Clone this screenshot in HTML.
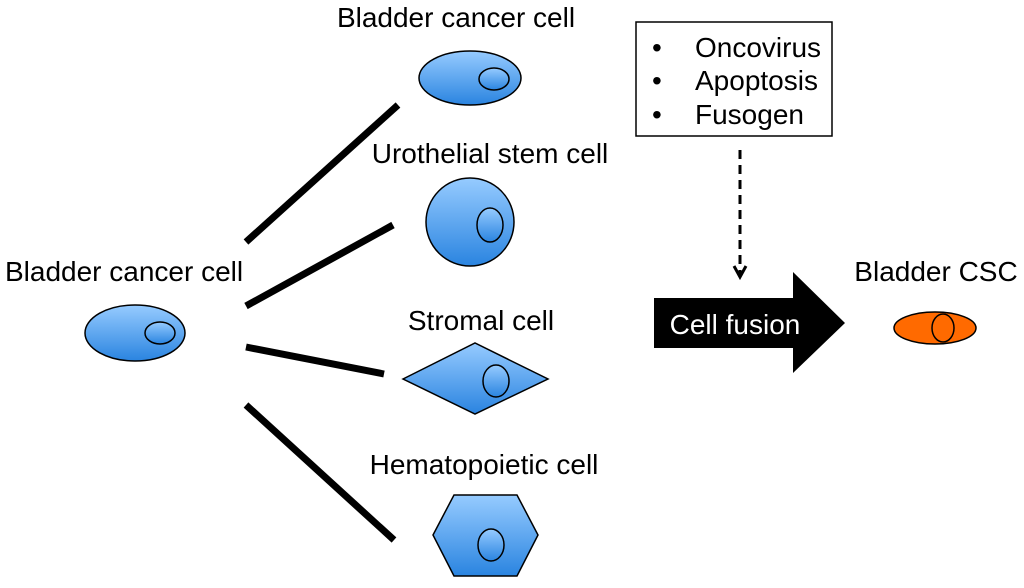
<!DOCTYPE html>
<html><head><style>html,body{margin:0;padding:0;background:#fff;}svg{display:block}</style></head>
<body>
<svg width="1024" height="588" viewBox="0 0 1024 588" xmlns="http://www.w3.org/2000/svg" font-family="Liberation Sans, sans-serif" font-size="28">
<defs>
<linearGradient id="g" x1="0" y1="0" x2="0" y2="1"><stop offset="0" stop-color="#96cbff"/><stop offset="1" stop-color="#2a84e0"/></linearGradient>
</defs>
<g stroke="#000" stroke-width="7">
<line x1="246" y1="242" x2="398" y2="105"/>
<line x1="246" y1="306" x2="393" y2="225"/>
<line x1="246" y1="347" x2="384" y2="374"/>
<line x1="246" y1="405" x2="394" y2="540"/>
</g>
<g stroke="#000" stroke-width="1.5" fill="url(#g)">
<ellipse cx="470" cy="78" rx="51" ry="27"/><ellipse cx="494" cy="79" rx="15" ry="11"/>
<circle cx="470" cy="222" r="44"/><ellipse cx="490" cy="225" rx="13" ry="17"/>
<polygon points="403,379 475,343 548,379 475,414"/><ellipse cx="496" cy="381" rx="13" ry="16"/>
<polygon points="433,535 454,495 517,495 538,535 517,576 454,576"/><ellipse cx="491" cy="545" rx="13" ry="16"/>
<ellipse cx="135" cy="333" rx="50" ry="28"/><ellipse cx="160" cy="333" rx="15" ry="11"/>
</g>
<g stroke="#000" stroke-width="1.5" fill="#ff6a00">
<ellipse cx="935" cy="328" rx="41" ry="16"/><ellipse cx="943" cy="328" rx="11" ry="14"/>
</g>
<rect x="636" y="22" width="196" height="114" fill="#fff" stroke="#000" stroke-width="1.5"/>
<text x="652" y="57">•</text><text x="695" y="57">Oncovirus</text>
<text x="652" y="90">•</text><text x="695" y="90">Apoptosis</text>
<text x="652" y="124">•</text><text x="695" y="124">Fusogen</text>
<line x1="740" y1="150" x2="740" y2="276" stroke="#000" stroke-width="3" stroke-dasharray="9,6"/>
<polyline points="734,266 740,277 746,266" fill="none" stroke="#000" stroke-width="3"/>
<polygon points="654,298 793,298 793,272 845,323 793,373 793,348 654,348" fill="#000"/>
<text x="735" y="334" fill="#fff" text-anchor="middle">Cell fusion</text>
<text x="456" y="27" text-anchor="middle">Bladder cancer cell</text>
<text x="490" y="163" text-anchor="middle">Urothelial stem cell</text>
<text x="481" y="330" text-anchor="middle">Stromal cell</text>
<text x="484" y="474" text-anchor="middle">Hematopoietic cell</text>
<text x="5" y="281">Bladder cancer cell</text>
<text x="936" y="281" text-anchor="middle">Bladder CSC</text>
</svg>
</body></html>
